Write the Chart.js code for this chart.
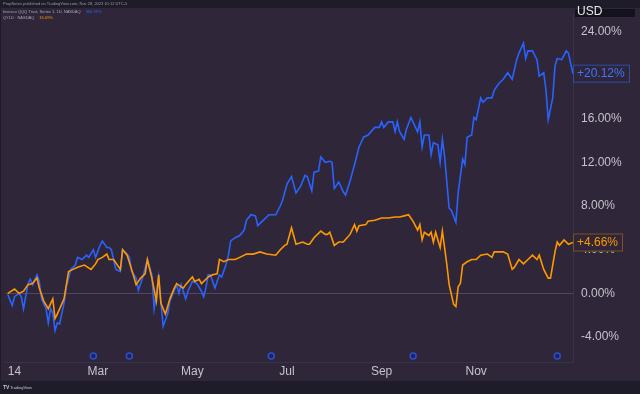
<!DOCTYPE html>
<html>
<head>
<meta charset="utf-8">
<script src="https://cdn.jsdelivr.net/npm/chart.js@4"></script>
<style>
  html, body { margin: 0; padding: 0; background: #1e1c28; }
  canvas { display: block; }
</style>
</head>
<body>
<canvas id="mycanvas" width="640" height="394"></canvas>
<script>
// trading day index (0 = first bar) and % change since start
var qqqDays = [1,3,4,6,7,8,10,11,12,14,15,16,18,19,20,21,22,23,24,26,27,29,31,32,34,36,37,39,40,42,43,45,46,47,49,51,52,54,55,56,58,59,61,63,65,66,68,70,72,73,76,77,78,80,81,83,85,87,88,89,90,91,93,95,96,98,99,100,102,104,106,107,109,111,112,114,117,120,122,123,125,127,129,131,133,134,136,137,139,140,142,144,145,146,148,150,151,153,155,157,159,161,164,166,167,168,170,172,173,174,175,177,178,180,183,184,185,186,188,189,190,192,193,194,195,197,198,200,201,203,204,205,207,208,209,211,212,214,216,217,219,221,222,223,225,226,227,228,230,231,232,234,236,237,239,240,241,243,244,245,247,249,250,251,252];
var qqqPct = [-0.1,-1.1,-0.3,0,-0.3,-1.4,0.9,1.3,0.8,1.7,1.1,-0.5,-1.4,-2.7,-1.4,-1.8,-3.4,-2.7,-2.8,-0.9,0.6,2.2,2.6,3.3,3.1,3.5,3.3,4.0,3.3,4.4,4.8,4.2,4.2,4.0,2.2,2.0,4.0,3.6,3.3,2.0,1.4,0.3,1.5,3.1,1.7,-1.4,1.5,-3.0,-1.9,-0.7,0.8,0,0.8,-0.5,0.2,1.1,0.9,0.2,-0.3,0.5,1.7,1.7,0.5,1.7,1.5,2.7,3.5,4.8,5.1,5.3,5.8,6.7,7.2,7.1,6.2,6.6,7.2,7.2,8.0,8.5,10.0,10.7,9.2,9.8,10.8,10.7,9.4,11.1,11.2,12.5,12.0,12.1,12.0,9.6,10.2,9.3,9.0,10.3,11.8,13.4,14.3,14.5,15.2,15.2,15.7,15.2,15.7,15.7,14.8,15.7,14.8,14.1,15.0,16.1,14.8,15.7,13.4,14.5,14.5,12.7,13.8,13.6,12.0,14.1,12.5,7.8,7.6,6.5,9.2,12.3,11.8,14.3,14.5,16.1,15.9,17.9,17.5,17.9,17.9,18.6,19.2,19.6,19.9,20.2,19.6,20.5,21.4,22.0,22.9,21.5,22.2,22.2,21.4,19.9,20.2,18.6,15.9,17.9,20.8,21.5,21.4,22.2,22.0,21.0,20.12];

var qyldDays = [1,4,6,8,10,12,14,15,17,19,21,22,23,26,28,30,32,35,38,40,41,43,45,46,48,51,52,54,56,58,60,62,63,65,67,68,69,71,73,75,76,78,79,80,83,84,86,87,89,90,92,94,95,97,99,102,104,107,110,113,116,120,122,124,125,127,129,132,134,135,137,140,142,143,144,146,148,150,153,155,156,157,160,161,164,167,170,173,175,177,179,181,183,184,185,186,188,189,190,191,193,194,196,197,199,200,201,202,203,205,207,209,211,214,216,217,221,223,225,226,228,230,232,234,236,237,239,241,242,244,245,246,248,250,252];
var qyldPct = [0,0.4,0,0.2,0.8,0.9,1.4,0.5,-0.7,-1.4,-0.5,-2.3,-1.9,-0.5,2.0,2.2,2.4,2.6,2.2,2.7,3.1,3.3,3.6,3.1,3.1,2.2,4.0,3.5,2.2,0.8,1.4,1.8,3.1,1.4,-0.7,1.7,-0.9,-1.9,-0.5,0.5,0.9,0.6,0.5,0.8,1.5,1.1,1.3,0.9,1.3,1.5,1.7,1.8,3.1,2.9,3.1,3.1,3.3,3.6,3.6,3.8,3.6,3.5,4.0,4.4,4.5,6.0,4.5,4.7,4.5,4.5,5.1,5.7,5.4,5.4,5.6,4.4,4.7,4.7,5.4,6.3,5.7,6.2,6.3,6.6,6.7,6.9,6.9,7.0,7.0,7.1,7.2,6.6,5.8,6.3,4.9,5.6,5.3,5.6,4.7,5.6,4.2,5.7,2.6,0.8,-1.0,-1.2,0.6,0.9,2.6,2.9,3.1,3.1,3.5,3.6,3.3,3.8,3.8,3.6,2.2,2.4,3.1,2.7,3.1,3.5,3.1,3.5,2.2,1.4,1.4,3.8,4.7,4.4,4.9,4.5,4.66];

var dividendDays = [39, 55, 118, 181, 245];
var dividendLevel = -5.74;

var monthTicks = [4, 41, 83, 125, 167, 209];
var monthLabels = ['14', 'Mar', 'May', 'Jul', 'Sep', 'Nov'];
var priceTicks = [-4, 0, 4, 8, 12, 16, 20, 24];

var lastQqq = 20.12;
var lastQyld = 4.66;

var bgColor = '#2f2739';
var bandColor = '#1e1c28';
var blue = '#2962ff';
var orange = '#ff9800';
var font = '"Liberation Sans", Arial, sans-serif';

function toPoints(days, vals) {
  var out = [];
  for (var i = 0; i < days.length; i++) {
    out.push({x: days[i], y: vals[i]});
  }
  return out;
}

var chromePlugin = {
  id: 'chrome',
  beforeDraw: function(chart) {
    var c = chart.ctx;
    c.save();
    c.fillStyle = bgColor;
    c.fillRect(0, 0, chart.width, chart.height);
    c.fillStyle = bandColor;
    c.fillRect(0, 0, chart.width, 8);
    c.fillRect(0, 381, chart.width, 13);
    c.fillRect(0, 0, 1, chart.height);
    c.restore();
  },
  afterDraw: function(chart) {
    var c = chart.ctx;
    var y = chart.scales.y;
    c.save();

    // header + legend (tiny text)
    c.font = '4px ' + font;
    c.textBaseline = 'middle';
    c.fillStyle = '#9a98a6';
    c.fillText('PropNotes published on TradingView.com, Nov 28, 2023 10:12 UTC-5', 3, 4);

    var rows = [
      ['Invesco QQQ Trust, Series 1, 1D, NASDAQ', '384.99%', blue, 12],
      ['QYLD · NASDAQ', '16.69%', orange, 17.5]
    ];
    rows.forEach(function(r) {
      c.fillStyle = '#a9a6b4';
      c.fillText(r[0], 3, r[3]);
      var w = c.measureText(r[0]).width;
      c.fillStyle = r[2];
      c.fillText(r[1], 3 + w + 5, r[3]);
    });

    // USD box
    c.fillStyle = '#14121c';
    c.fillRect(575, 9, 60, 8);
    c.font = '12px ' + font;
    c.fillStyle = '#e8e8ee';
    c.fillText('USD', 577, 12);

    // last value labels
    function tag(val, text, w, border, color) {
      var py = y.getPixelForValue(val);
      c.fillStyle = bgColor;
      c.fillRect(573.5, py - 9, w, 18);
      c.strokeStyle = border;
      c.lineWidth = 1;
      c.strokeRect(573.5, py - 8.5, w, 17);
      c.font = '12px ' + font;
      c.fillStyle = color;
      c.textBaseline = 'middle';
      c.fillText(text, 577, py + 0.5);
    }
    tag(lastQqq, '+' + lastQqq.toFixed(2) + '%', 56, '#2d4ca8', '#3f73ff');
    tag(lastQyld, '+' + lastQyld.toFixed(2) + '%', 49, '#7c5020', orange);

    // footer logo
    c.font = 'bold 5px ' + font;
    c.fillStyle = '#c8c6d0';
    c.fillText('TV', 3, 388);
    c.font = '4px ' + font;
    c.fillText('TradingView', 10, 388);
    c.restore();
  }
};

var ctx = document.getElementById('mycanvas');

var chart = new Chart(ctx, {
  type: 'line',
  data: {
    datasets: [
      {
        label: 'QYLD',
        data: toPoints(qyldDays, qyldPct),
        borderColor: orange,
        borderWidth: 1.6,
        pointRadius: 0,
        tension: 0,
        fill: false
      },
      {
        label: 'QQQ',
        data: toPoints(qqqDays, qqqPct),
        borderColor: blue,
        borderWidth: 1.6,
        pointRadius: 0,
        tension: 0,
        fill: false
      },
      {
        label: 'dividends',
        data: dividendDays.map(function(d) { return {x: d, y: dividendLevel}; }),
        showLine: false,
        pointStyle: 'circle',
        pointRadius: 3,
        borderColor: '#2c4fd0',
        backgroundColor: '#1c2460',
        borderWidth: 1.5
      }
    ]
  },
  options: {
    responsive: false,
    animation: false,
    layout: { padding: { top: 8, bottom: 13, left: 1, right: 0 } },
    plugins: {
      legend: { display: false },
      tooltip: { enabled: false }
    },
    scales: {
      x: {
        type: 'linear',
        min: 0,
        max: 252,
        afterBuildTicks: function(scale) {
          scale.ticks = monthTicks.map(function(v) { return {value: v}; });
        },
        afterFit: function(scale) { scale.height = 19; },
        ticks: {
          autoSkip: false,
          maxRotation: 0,
          padding: 2,
          color: '#c4c2cc',
          font: { family: font, size: 12 },
          callback: function(v) {
            var i = monthTicks.indexOf(v);
            return i >= 0 ? monthLabels[i] : '';
          }
        },
        grid: { display: false, drawTicks: false },
        border: { display: true, color: '#3a3248', width: 1 }
      },
      y: {
        position: 'right',
        min: -6.28,
        max: 25.47,
        afterBuildTicks: function(scale) {
          scale.ticks = priceTicks.map(function(v) { return {value: v}; });
        },
        afterFit: function(scale) { scale.width = 67; },
        ticks: {
          padding: 8,
          color: '#c4c2cc',
          font: { family: font, size: 12 },
          callback: function(v) { return v.toFixed(2) + '%'; }
        },
        grid: {
          drawTicks: false,
          color: function(c) {
            return c.tick && c.tick.value === 0 ? 'rgba(110,100,130,0.55)' : 'rgba(0,0,0,0)';
          }
        },
        border: { display: true, color: '#3a3248', width: 1 }
      }
    }
  },
  plugins: [chromePlugin]
});
</script>
</body>
</html>
